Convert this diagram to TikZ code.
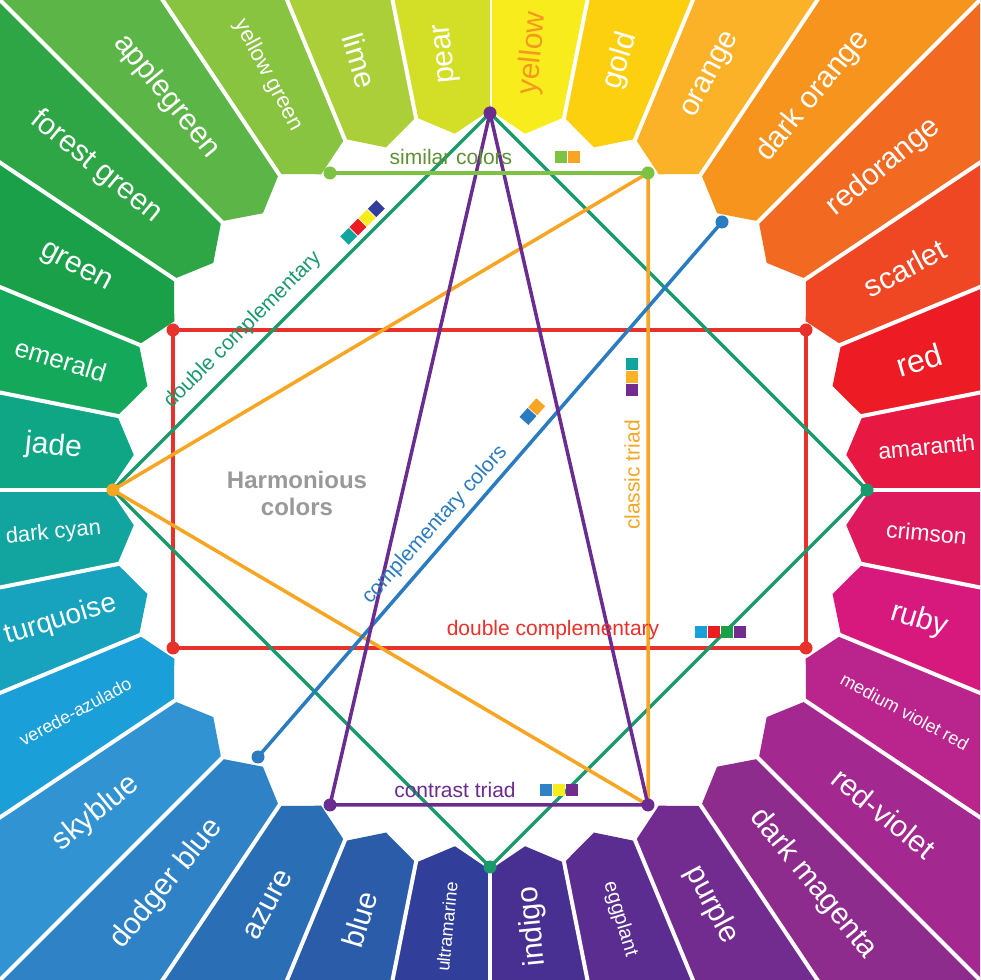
\documentclass[tikz,border=0pt]{standalone}
\usepackage{fontspec}
\setmainfont{Liberation Sans}
\usetikzlibrary{calc}

\definecolor{cyellow}{HTML}{F9EC1C}
\definecolor{cgold}{HTML}{FDD00F}
\definecolor{corange}{HTML}{FBB128}
\definecolor{cdarkorange}{HTML}{F7941D}
\definecolor{credorange}{HTML}{F26A22}
\definecolor{cscarlet}{HTML}{EF4723}
\definecolor{cred}{HTML}{ED1C24}
\definecolor{camaranth}{HTML}{E71842}
\definecolor{ccrimson}{HTML}{DE1A5E}
\definecolor{cruby}{HTML}{D7197E}
\definecolor{cmvr}{HTML}{BA248D}
\definecolor{credviolet}{HTML}{A3288F}
\definecolor{cdarkmagenta}{HTML}{8E2C8E}
\definecolor{cpurple}{HTML}{722C8F}
\definecolor{ceggplant}{HTML}{5C2D90}
\definecolor{cindigo}{HTML}{483092}
\definecolor{cultramarine}{HTML}{323F9A}
\definecolor{cblue}{HTML}{2A5CA9}
\definecolor{cazure}{HTML}{2A6EB6}
\definecolor{cdodger}{HTML}{2E82C5}
\definecolor{cskyblue}{HTML}{3193D2}
\definecolor{cverede}{HTML}{1A9FD8}
\definecolor{cturquoise}{HTML}{17A2BE}
\definecolor{cdarkcyan}{HTML}{12A5A0}
\definecolor{cjade}{HTML}{0FA686}
\definecolor{cemerald}{HTML}{14A85A}
\definecolor{cgreen}{HTML}{1BA04A}
\definecolor{cforest}{HTML}{2EA646}
\definecolor{capple}{HTML}{5CB647}
\definecolor{cyellowgreen}{HTML}{88C440}
\definecolor{clime}{HTML}{AACF38}
\definecolor{cpear}{HTML}{D3DF27}
\definecolor{ltext}{HTML}{F39A1E}

\definecolor{lsimilar}{HTML}{7DC242}
\definecolor{ldouble}{HTML}{1A9A6C}
\definecolor{lorange}{HTML}{F6A623}
\definecolor{lblue}{HTML}{2B7BC0}
\definecolor{lpurple}{HTML}{6A2C90}
\definecolor{lred}{HTML}{E8312A}

\newcommand{\swatches}[2]{%
  \begin{scope}[shift={(#1)}]
    \foreach \c [count=\k] in {#2} \fill[\c] (\k*13-13,-6) rectangle ++(12,12);
  \end{scope}}
\newcommand{\vswatches}[2]{%
  \begin{scope}[shift={(#1)}]
    \foreach \c [count=\k] in {#2} \fill[\c] (-6,-\k*13+13) rectangle ++(12,-12);
  \end{scope}}

\begin{document}
\begin{tikzpicture}[x=1pt,y=1pt,
    link/.style={line width=3.5pt},
    dot/.style={circle, fill, inner sep=0pt, minimum size=13pt},
    linelabel/.style={font=\fontsize{21}{21}\selectfont, inner sep=1pt}]

\useasboundingbox (0,0) rectangle (980,980);
\fill[white] (0,0) rectangle (980,980);

% colour sectors
\begin{scope}
\clip (0,0) rectangle (980,980);
\foreach \nm/\col/\fs/\tc [count=\i from 0] in {
  yellow/cyellow/30/ltext, gold/cgold/30/white, orange/corange/30/white,
  dark orange/cdarkorange/30/white, redorange/credorange/30/white,
  scarlet/cscarlet/30/white, red/cred/32/white, amaranth/camaranth/23/white,
  crimson/ccrimson/23/white, ruby/cruby/30/white, medium violet red/cmvr/18/white,
  red-violet/credviolet/30/white, dark magenta/cdarkmagenta/30/white,
  purple/cpurple/30/white, eggplant/ceggplant/20/white, indigo/cindigo/30/white,
  ultramarine/cultramarine/18/white, blue/cblue/30/white, azure/cazure/30/white,
  dodger blue/cdodger/30/white, skyblue/cskyblue/30/white,
  verede-azulado/cverede/18/white, turquoise/cturquoise/28/white,
  dark cyan/cdarkcyan/22/white, jade/cjade/30/white, emerald/cemerald/26/white,
  green/cgreen/30/white, forest green/cforest/30/white, applegreen/capple/30/white,
  yellow green/cyellowgreen/22/white, lime/clime/30/white, pear/cpear/30/white} {
  \pgfmathsetmacro\aa{90-11.25*\i}
  \pgfmathsetmacro\ab{\aa-11.25}
  \pgfmathsetmacro\am{\aa-5.625}
  \fill[\col] ($(490,490)+(\aa:380)$) -- ($(490,490)+(\aa:800)$)
    -- ($(490,490)+(\ab:800)$) -- ($(490,490)+(\ab:380)$)
    -- ($(490,490)+(\am:358)$) -- cycle;
  \pgfmathsetmacro\E{490/max(abs(cos(\am)),abs(sin(\am)))}
  \pgfmathsetmacro\rl{(385+\E)/2}
  \pgfmathsetmacro\rot{abs(cos(\am))<0.15 ? (sin(\am)>0 ? \am : \am+180)
    : (cos(\am)>=0 ? \am : \am+180)}
  \node[text=\tc, rotate=\rot, font=\fontsize{\fs}{\fs}\selectfont]
    (s\i) at ($(490,490)+(\am:\rl)$) {\nm};
  \draw[white, line width=4pt] ($(490,490)+(\aa:370)$) -- ($(490,490)+(\aa:800)$);
}
\end{scope}

% key points
\coordinate (top) at (490,867);
\coordinate (bottom) at (490,113);
\coordinate (left) at (113,490);
\coordinate (right) at (867,490);
\coordinate (simL) at (330,807);
\coordinate (simR) at (648,807);
\coordinate (triL) at (330,175);
\coordinate (triR) at (648,175);
\coordinate (recTL) at (173,650);
\coordinate (recTR) at (806,650);
\coordinate (recBL) at (173,332);
\coordinate (recBR) at (806,332);
\coordinate (compA) at (258,223);
\coordinate (compB) at (722,758);

% connectors
\draw[link, lred] (recTL) -- (recTR) -- (recBR) -- (recBL) -- cycle;
\draw[link, ldouble] (top) -- (right) -- (bottom) -- (left) -- cycle;
\draw[link, lorange] (left) -- (simR) -- (triR) -- (left);
\draw[link, lblue] (compA) -- (compB);
\draw[link, lpurple] (top) -- (triL) -- (triR) -- cycle;
\draw[link, lsimilar] (simL) -- (simR);

\foreach \p in {recTL, recTR, recBL, recBR} \node[dot, lred] at (\p) {};
\foreach \p in {simL, simR} \node[dot, lsimilar] at (\p) {};
\foreach \p in {compA, compB} \node[dot, lblue] at (\p) {};
\foreach \p in {right, bottom} \node[dot, ldouble] at (\p) {};
\node[dot, lorange] at (left) {};
\foreach \p in {top, triL, triR} \node[dot, lpurple] at (\p) {};

% labels
\node[linelabel, text=lsimilar!75!black] (simlabel) at (451,823) {similar colors};
\swatches{555,823}{lsimilar,lorange}
\node[linelabel, text=ldouble, rotate=45] (dclabel) at (243,650) {double complementary};
\begin{scope}[rotate around={45:(360,755)}]
\swatches{338,755}{cdarkcyan,cred,cyellow,cultramarine}
\end{scope}
\node[linelabel, text=lred] (rclabel) at (553,350) {double complementary};
\swatches{695,348}{cverede,cred,cgreen,cpurple}
\node[linelabel, text=lorange, rotate=90] (ctlabel) at (632,505) {classic triad};
\vswatches{632,622}{cdarkcyan,corange,cpurple}
\node[linelabel, text=lblue, rotate=48] (cclabel) at (435,455) {complementary colors};
\begin{scope}[rotate around={48:(532,568)}]
\swatches{520,568}{lblue,lorange}
\end{scope}
\node[linelabel, text=lpurple] (trlabel) at (455,190) {contrast triad};
\swatches{540,190}{cdodger,cyellow,cpurple}
\node[text=gray!80, font=\bfseries\fontsize{24}{27}\selectfont, align=center]
  (harm) at (297,487) {Harmonious\\colors};

\end{tikzpicture}
\end{document}
